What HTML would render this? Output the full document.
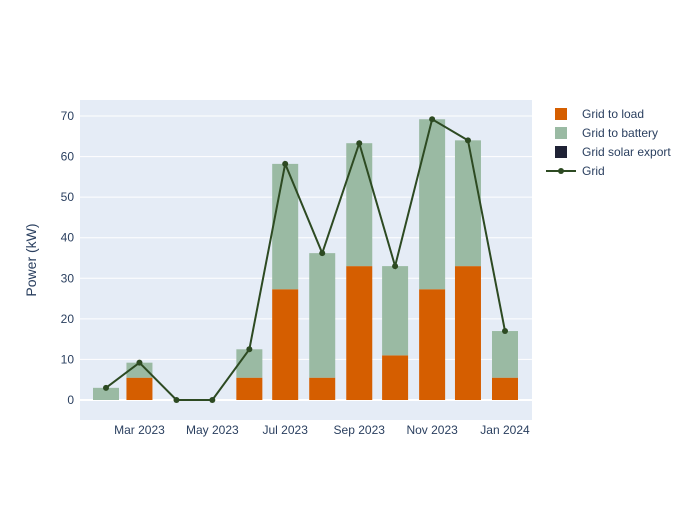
<!DOCTYPE html>
<html><head><meta charset="utf-8"><style>
body{margin:0;background:#fff;font-family:"Liberation Sans",sans-serif;}
svg text{font-family:"Liberation Sans",sans-serif;fill:#2a3f5f;}
</style></head><body>
<svg id="c" width="700" height="500">
<rect x="0" y="0" width="700" height="500" fill="#fff"/>
<rect x="80" y="100" width="452" height="320" fill="#E5ECF6"/>
<g id="grid"></g><g id="bars"></g><g id="line"></g><g id="axes"></g>
<text x="36" y="260" font-size="14" text-anchor="middle" transform="rotate(-90 36 260)">Power (kW)</text>
<g>
<g><rect x="555" y="108" width="12" height="12" fill="#D55E00"/><text x="582" y="118" font-size="12">Grid to load</text></g>
<g><rect x="555" y="127" width="12" height="12" fill="#9ABAA3"/><text x="582" y="137" font-size="12">Grid to battery</text></g>
<g><rect x="555" y="146" width="12" height="12" fill="#1F2235"/><text x="582" y="156" font-size="12">Grid solar export</text></g>
<g><line x1="546" y1="171" x2="576" y2="171" stroke="#2D4A22" stroke-width="2"/><circle cx="561" cy="171" r="3" fill="#2D4A22"/><text x="582" y="175" font-size="12">Grid</text></g>
</g>
</svg>
<script>
const months=["2023-02-01","2023-03-01","2023-04-01","2023-05-01","2023-06-01","2023-07-01","2023-08-01","2023-09-01","2023-10-01","2023-11-01","2023-12-01","2024-01-01"];
const gridToLoad=[0,5.5,0,0,5.5,27.3,5.5,33,11,27.3,33,5.5];
const gridToBattery=[3,3.7,0,0,7,30.9,30.7,30.3,22,41.9,31,11.5];
const gridTotal=[3,9.2,0,0,12.5,58.2,36.2,63.3,33,69.2,64,17];
const yTicks=[0,10,20,30,40,50,60,70];
const xTickLabels=["Mar 2023","May 2023","Jul 2023","Sep 2023","Nov 2023","Jan 2024"];
const xTickIdx=[1,3,5,7,9,11];
const NS="http://www.w3.org/2000/svg";
const y=v=>400-v*4.057;
const t0=Date.parse(months[0]),t1=Date.parse(months[11]);
const x=i=>106+(Date.parse(months[i])-t0)/(t1-t0)*399;
function mk(p,t,a){const e=document.createElementNS(NS,t);for(const k in a)e.setAttribute(k,a[k]);document.getElementById(p).appendChild(e);return e;}
yTicks.forEach(v=>{
 const l=mk('grid','line',{x1:80,x2:532,y1:y(v),y2:y(v),stroke:'#fff','stroke-width':v===0?2:1});
 
 
 const t=mk('axes','text',{x:74,y:y(v)+4,'font-size':12,'text-anchor':'end'});t.textContent=v;
 
 
});
xTickIdx.forEach((i,k)=>{
 const t=mk('axes','text',{x:x(i),y:434,'font-size':12,'text-anchor':'middle'});t.textContent=xTickLabels[k];
 
 
});
const bw=26;
months.forEach((m,i)=>{
 const a=gridToLoad[i],b=gridToBattery[i];
 const r1=mk('bars','rect',{x:x(i)-bw/2,y:y(a),width:bw,height:y(0)-y(a),fill:'#D55E00'});
 
 
 const r2=mk('bars','rect',{x:x(i)-bw/2,y:y(a+b),width:bw,height:y(a)-y(a+b),fill:'#9ABAA3'});
 
 
});
const pl=mk('line','polyline',{points:gridTotal.map((v,i)=>x(i)+','+y(v)).join(' '),fill:'none',stroke:'#2D4A22','stroke-width':2});


gridTotal.forEach((v,i)=>{
 const c=mk('line','circle',{cx:x(i),cy:y(v),r:3,fill:'#2D4A22'});
 
 
});
</script>
</body></html>
